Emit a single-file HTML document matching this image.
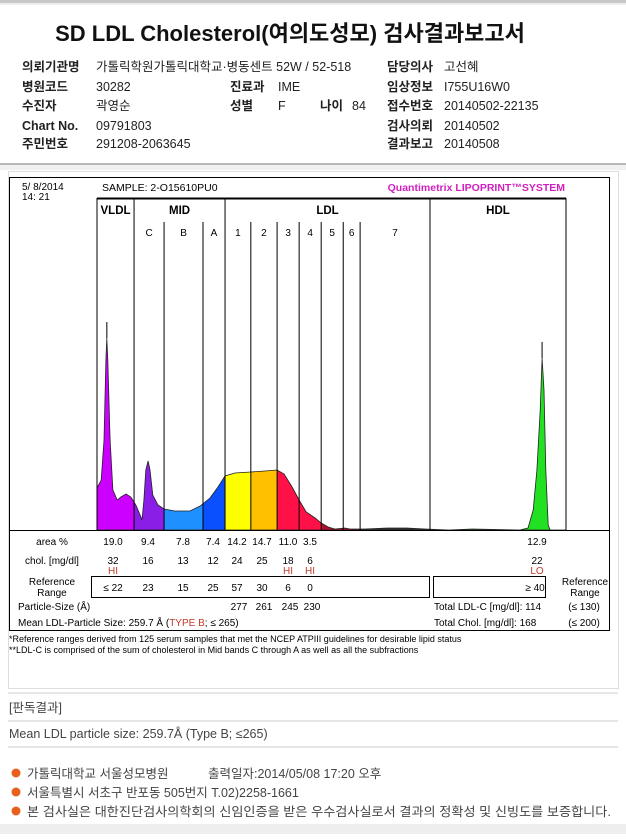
<!DOCTYPE html>
<html><head><meta charset="utf-8"><style>
html,body{margin:0;padding:0;background:#fff;}
body{width:626px;height:834px;overflow:hidden;position:relative;font-family:"Liberation Sans","Noto Sans CJK KR",sans-serif;}
svg text{font-family:"Liberation Sans","Noto Sans CJK KR",sans-serif;}
</style></head><body>
<svg id="page" width="626" height="834" viewBox="0 0 626 834" xmlns="http://www.w3.org/2000/svg">
<rect x="0" y="0" width="626" height="3" fill="#c8c8c8"/>
<rect x="0" y="3" width="626" height="2" fill="#eee"/>
<text x="290" y="41" text-anchor="middle" font-size="22" font-weight="bold" fill="#111">SD LDL Cholesterol(여의도성모) 검사결과보고서</text>
<g font-size="12.5" fill="#222">
<g font-weight="bold">
<text x="22" y="71">의뢰기관명</text>
<text x="22" y="91">병원코드</text>
<text x="22" y="110">수진자</text>
<text x="22" y="130">Chart No.</text>
<text x="22" y="148">주민번호</text>
<text x="230" y="91">진료과</text>
<text x="230" y="110">성별</text>
<text x="320" y="110">나이</text>
<text x="387" y="71">담당의사</text>
<text x="387" y="91">임상정보</text>
<text x="387" y="110">접수번호</text>
<text x="387" y="130">검사의뢰</text>
<text x="387" y="148">결과보고</text>
</g>
<text x="96" y="71">가톨릭학원가톨릭대학교·병동센트 52W / 52-518</text>
<text x="96" y="91">30282</text>
<text x="96" y="110">곽영순</text>
<text x="96" y="130">09791803</text>
<text x="96" y="148">291208-2063645</text>
<text x="278" y="91">IME</text>
<text x="278" y="110">F</text>
<text x="352" y="110">84</text>
<text x="444" y="71">고선혜</text>
<text x="444" y="91">I755U16W0</text>
<text x="444" y="110">20140502-22135</text>
<text x="444" y="130">20140502</text>
<text x="444" y="148">20140508</text>
</g>
<rect x="0" y="163" width="626" height="2" fill="#b8b8b8"/>
<rect x="0" y="165" width="626" height="5" fill="#f0f0f0"/>
<rect x="8.5" y="171.5" width="610" height="517" fill="#fff" stroke="#ddd"/>

<g id="chart"></g>

<g font-size="10" fill="#000" id="table"></g>

<line x1="8" y1="693" x2="618" y2="693" stroke="#ccc"/>
<text x="9" y="712" font-size="12.5" fill="#444">[판독결과]</text>
<line x1="8" y1="721" x2="618" y2="721" stroke="#ccc"/>
<text x="9" y="738" font-size="12.5" fill="#444">Mean LDL particle size: 259.7Å (Type B; ≤265)</text>
<line x1="8" y1="747" x2="618" y2="747" stroke="#ccc"/>
<g font-size="12.5" fill="#444">
<circle cx="16" cy="773" r="4.5" fill="#e8601c"/>
<text x="27" y="778">가톨릭대학교 서울성모병원</text>
<text x="208" y="778">출력일자:2014/05/08 17:20 오후</text>
<circle cx="16" cy="792" r="4.5" fill="#e8601c"/>
<text x="27" y="797">서울특별시 서초구 반포동 505번지 T.02)2258-1661</text>
<circle cx="16" cy="811" r="4.5" fill="#e8601c"/>
<text x="27" y="816" textLength="584" lengthAdjust="spacingAndGlyphs">본 검사실은 대한진단검사의학회의 신임인증을 받은 우수검사실로서 결과의 정확성 및 신빙도를 보증합니다.</text>
</g>
<rect x="0" y="824" width="626" height="10" fill="#eee"/>
</svg>
<script>
// ---- chart data ----
const mobility = [0,0,0.9,1.5,1.9,2.1,2.3,2.8,3.4,4.3,5.1,6.2,7.2,8.3,9.2,9.6,10.0,10.4,10.9,11.3,11.9,13.0,14.3,16.6,19.8,22.0,24.1,25.8,27.3,29.4,32.8,35.8,38.4,39.9,41.6,43.1,44.6,46.5,47.8,49.3,50.7,52.9,53.9,57.1,62,66,70,75,80,90.2,91.9,93.0,93.8,94.5,94.9,95.3,95.7,96.2,96.6,100];
const intensity = [0,42,50,90,170,192,170,90,40,30,33,36,33,25,15,10,30,60,69,60,35,25,21,19,19,24,32,43,54,57,58,59,60,56,43,30,18,12,7,3,1,2,1,1,2,2,1,0,1,0,2,20,60,120,172,140,60,5,0,0];
const bandEdges = [0,7.9,14.3,22.6,27.3,32.8,38.4,43.1,47.8,52.5,56.1,71.0,100];
const bandNames = ["VLDL","C","B","A","1","2","3","4","5","6","7","HDL"];
const bandColors = ["#cc00ff","#8a1ee6","#1e90ff","#0a50ff","#ffff00","#ffc000","#ff1046","#ff1046","#b01030","#b01030","#333","#22e022"];
const groupLabels = ["VLDL","MID","LDL","HDL"];
const groupEdges = [[0,7.9],[7.9,27.3],[27.3,71.0],[71.0,100]];
const areaPct = ["19.0","9.4","7.8","7.4","14.2","14.7","11.0","3.5","","","","12.9"];
const cholVals = ["32","16","13","12","24","25","18","6","","","","22"];
const cholFlags = ["HI","","","","","","HI","HI","","","","LO"];
const refRange = ["≤ 22","23","15","25","57","30","6","0"];
const particleSize = ["","","","","277","261","245","230"];

const NS="http://www.w3.org/2000/svg";
const X0=97, X1=566, YB=530, YK=1.0;
const xs = m => X0 + m*(X1-X0)/100;
const ys = v => YB - v*YK;
function mk(tag, attrs, parent){const e=document.createElementNS(NS,tag);for(const k in attrs)e.setAttribute(k,attrs[k]);parent.appendChild(e);return e;}
const chart=document.getElementById('chart');

let r=mk('rect',{x:9.5,y:177.5,width:600,height:453,fill:'none',stroke:'#000'},chart);


let t=mk('text',{x:22,y:190,'font-size':10},chart);t.textContent='5/ 8/2014';


t=mk('text',{x:22,y:200,'font-size':10},chart);t.textContent='14: 21';


t=mk('text',{x:102,y:191,'font-size':10.5},chart);t.textContent='SAMPLE:  2-O15610PU0';


t=mk('text',{x:565,y:191,'font-size':10.5,'font-weight':'bold',fill:'#d020c0','text-anchor':'end'},chart);t.textContent='Quantimetrix LIPOPRINT™SYSTEM';


let l=mk('line',{x1:X0,y1:198.5,x2:X1,y2:198.5,stroke:'#000','stroke-width':2},chart);



let d='M'+xs(mobility[0])+','+ys(intensity[0]);
for(let i=1;i<mobility.length;i++) d+=' L'+xs(mobility[i]).toFixed(1)+','+ys(intensity[i]).toFixed(1);
d+=' L'+xs(100)+','+YB+' Z';
const defs=mk('defs',{},chart);
const cp=mk('clipPath',{id:'curveclip'},defs);
mk('path',{d:d},cp);
const fills=mk('g',{'clip-path':'url(#curveclip)'},chart);


for(let i=0;i<bandNames.length;i++){
  const b=mk('rect',{x:xs(bandEdges[i]),y:170,width:xs(bandEdges[i+1])-xs(bandEdges[i]),height:YB-170,fill:bandColors[i]},fills);
  
  
}
let outline=mk('path',{d:d,fill:'none',stroke:'#222','stroke-width':0.8},chart);



[[0,10],[71,100]].forEach((rg,k)=>{
  let bi=-1,bv=-1;
  for(let i=0;i<mobility.length;i++) if(mobility[i]>=rg[0]&&mobility[i]<=rg[1]&&intensity[i]>bv){bv=intensity[i];bi=i;}
  const pm=mk('line',{x1:xs(mobility[bi]),x2:xs(mobility[bi]),y1:ys(bv),y2:ys(bv)-16,stroke:'#000','stroke-width':1},chart);
  
  
});

for(let i=0;i<bandEdges.length;i++){
  const major=[0,1,4,11,12].includes(i);
  const ln=mk('line',{x1:xs(bandEdges[i]),x2:xs(bandEdges[i]),y1:(major?198:222),y2:YB,stroke:'#000','stroke-width':1},chart);
  
  
}
for(let i=1;i<bandNames.length-1;i++){
  const lb=mk('text',{x:(xs(bandEdges[i])+xs(bandEdges[i+1]))/2,y:236,'font-size':10,'text-anchor':'middle'},chart);
  lb.textContent=bandNames[i];
  
  
}
groupLabels.forEach((g,i)=>{
  const gl=mk('text',{x:(xs(groupEdges[i][0])+xs(groupEdges[i][1]))/2,y:214,'font-size':11.5,'font-weight':'bold','text-anchor':'middle'},chart);
  gl.textContent=g;
  
  
});
let bl=mk('line',{x1:9.5,y1:YB+0.5,x2:609.5,y2:YB+0.5,stroke:'#000'},chart);



const tb=document.getElementById('table');
const colX=[113,148,183,213,237,262,288,310,0,0,0,537];
function tx(x,y,s,attrs,name){const e=mk('text',Object.assign({x:x,y:y,'text-anchor':'middle'},attrs||{}),tb);e.textContent=s;
  
  return e;}
tx(52,545,'area %',{},'row-label-area');
tx(52,564,'chol. [mg/dl]',{},'row-label-chol');
tx(52,585,'Reference',{},'row-label-ref-1');
tx(52,596,'Range',{},'row-label-ref-2');
tx(585,585,'Reference',{},'hdl-ref-label-1');
tx(585,596,'Range',{},'hdl-ref-label-2');
for(let i=0;i<colX.length;i++){
  if(!colX[i])continue;
  if(areaPct[i]) tx(colX[i],545,areaPct[i],{},'area-value');
  if(cholVals[i]) tx(colX[i],564,cholVals[i],{},'chol-value');
  if(cholFlags[i]) tx(colX[i],574,cholFlags[i],{fill:'#c0392b'},'chol-flag');
}
let rb=mk('rect',{x:91.5,y:576.5,width:338,height:21,fill:'none',stroke:'#000'},tb);


rb=mk('rect',{x:433.5,y:576.5,width:112,height:21,fill:'none',stroke:'#000'},tb);


refRange.forEach((v,i)=>tx(colX[i],591,v,{},'ref-range-value'));
tx(535,591,'≥ 40',{},'hdl-ref-value');
tx(18,610,'Particle-Size (Å)',{'text-anchor':'start'},'particle-size-label');
particleSize.forEach((v,i)=>{if(v)tx(colX[i]+2,610,v,{},'particle-size-value');});
const ms=mk('text',{x:18,y:626,'font-size':10},tb);
ms.innerHTML='Mean LDL-Particle Size:   259.7 Å  (<tspan fill="#c0392b">TYPE B</tspan>; ≤ 265)';


tx(434,610,'Total LDL-C [mg/dl]:  114',{'text-anchor':'start'},'total-ldl-c');
tx(434,626,'Total Chol. [mg/dl]:    168',{'text-anchor':'start'},'total-chol');
tx(584,610,'(≤ 130)',{},'total-ldl-ref');
tx(584,626,'(≤ 200)',{},'total-chol-ref');
tx(9,642,'*Reference ranges derived from 125 serum samples that met the NCEP ATPIII guidelines for desirable lipid status',{'text-anchor':'start','font-size':9},'footnote-1');
tx(9,653,'**LDL-C is comprised of the sum of cholesterol in Mid bands C through A as well as all the subfractions',{'text-anchor':'start','font-size':9},'footnote-2');
</script>
</body></html>
